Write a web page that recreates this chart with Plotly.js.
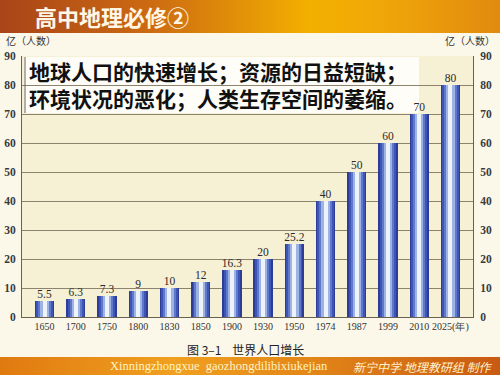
<!DOCTYPE html>
<html><head><meta charset="utf-8">
<script src="https://cdn.plot.ly/plotly-3.0.1.min.js"></script>
<style>html,body{margin:0;padding:0;background:#fbf8ea;}#chart{width:500px;height:375px;}</style>
</head><body><div id="chart"></div>
<script>
// ---- data ----
const years = ["1650","1700","1750","1800","1830","1850","1900","1930","1950","1974","1987","1999","2010","2025"];
const population = [5.5, 6.3, 7.3, 9, 10, 12, 16.3, 20, 25.2, 40, 50, 60, 70, 80];
const valueLabels = ["5.5","6.3","7.3","9","10","12","16.3","20","25.2","40","50","60","70","80"];
const yearLabels = ["1650","1700","1750","1800","1830","1850","1900","1930","1950","1974","1987","1999","2010","2025(年)"];
const yTicks = [0,10,20,30,40,50,60,70,80,90];

const W = 500, H = 375, mL = 22, mR = 27, mT = 56, mB = 58;
const pw = W - mL - mR, ph = H - mT - mB;
const px = X => (X - mL) / pw;
const py = Y => (H - mB - Y) / ph;

// bar layers (gradient imitation)
const layers = [
  {w: 0.62, c: '#2d3d96'},
  {w: 0.52, c: '#3d55b4'},
  {w: 0.40, c: '#5f78cc'},
  {w: 0.27, c: '#9fb2e4'},
  {w: 0.13, c: '#eef2fb'}
];
const traces = layers.map(L => ({
  type: 'bar', x: years, y: population, width: L.w,
  marker: {color: L.c, line: {width: 0}}, hoverinfo: 'skip', showlegend: false,
  xaxis: 'x', yaxis: 'y'
}));
traces.push({
  type: 'scatter', mode: 'text', x: years, y: population, text: valueLabels,
  textposition: 'top center', cliponaxis: false,
  textfont: {family: 'Liberation Serif', size: 11.5, color: '#2a2a2a'},
  xaxis: 'x', yaxis: 'y2', showlegend: false, hoverinfo: 'skip'
});

function grad(stops, w, h) {
  const s = stops.map(([o, c]) => `<stop offset='${o}' stop-color='${c}'/>`).join('');
  const svg = `<svg xmlns='http://www.w3.org/2000/svg' width='${w}' height='${h}' preserveAspectRatio='none'><defs><linearGradient id='g' x1='0' y1='0' x2='1' y2='0'>${s}</linearGradient></defs><rect width='${w}' height='${h}' fill='url(#g)'/></svg>`;
  return 'data:image/svg+xml;base64,' + btoa(svg);
}
const headerImg = grad([[0,'#a84418'],[0.3,'#cc6a12'],[0.62,'#f3b000'],[0.75,'#f0a808'],[1,'#e28a10']], 500, 33);
const footerImg = grad([[0,'#e07a10'],[0.35,'#f0a020'],[0.6,'#e48818'],[1,'#c85a12']], 500, 18);

const axFont = {family: 'Liberation Serif', size: 11.5, color: '#3a3a3a', weight: 'bold'};
const layout = {
  width: W, height: H,
  margin: {l: mL, r: mR, t: mT, b: mB, pad: 0},
  paper_bgcolor: '#fbf8ea', plot_bgcolor: '#f6f0d4',
  barmode: 'overlay', bargap: 0, showlegend: false,
  xaxis: {type: 'category', tickvals: years, ticktext: yearLabels, showgrid: false, tickangle: 0,
    showline: true, linecolor: '#6a6050', linewidth: 1, ticks: '', fixedrange: true,
    tickfont: {family: 'Liberation Serif', size: 10, color: '#333'}},
  yaxis: {range: [0, 90], tickvals: yTicks, showgrid: true, gridcolor: '#8c826e', gridwidth: 1,
    zeroline: false, showline: true, linecolor: '#6a6050', linewidth: 1, ticks: '', mirror: false,
    tickfont: axFont, ticklabelstandoff: 3},
  yaxis2: {range: [0, 90], tickvals: yTicks, overlaying: 'y', side: 'right', showgrid: false,
    zeroline: false, showline: true, linecolor: '#6a6050', linewidth: 1, ticks: '',
    tickfont: axFont, ticklabelstandoff: 4},
  images: [
    {source: headerImg, xref: 'paper', yref: 'paper', x: px(0), y: py(0), sizex: 500/pw, sizey: 33/ph,
      xanchor: 'left', yanchor: 'top', sizing: 'stretch', layer: 'below'},
    {source: footerImg, xref: 'paper', yref: 'paper', x: px(0), y: py(357), sizex: 500/pw, sizey: 18/ph,
      xanchor: 'left', yanchor: 'top', sizing: 'stretch', layer: 'below'}
  ],
  shapes: [
    {type: 'rect', xref: 'paper', yref: 'paper', x0: px(24), x1: px(419), y0: py(113), y1: py(57),
      fillcolor: 'rgba(255,255,255,0.82)', line: {width: 0}, layer: 'between'},
    {type: 'line', xref: 'paper', yref: 'paper', x0: px(25), x1: px(25), y0: py(113), y1: py(57),
      line: {width: 1, color: '#6a6050'}, layer: 'above'}
  ],
  annotations: [
    {text: '高中地理必修②', xref: 'paper', yref: 'paper', x: px(33), y: py(16), xanchor: 'left', yanchor: 'middle',
      showarrow: false, font: {family: 'Noto Sans CJK SC', size: 22, color: '#fff6e6', weight: 'bold'}},
    {text: '亿（人数）', xref: 'paper', yref: 'paper', x: px(4), y: py(41), xanchor: 'left', yanchor: 'middle',
      showarrow: false, font: {family: 'Noto Sans CJK SC', size: 10, color: '#333'}},
    {text: '亿（人数）', xref: 'paper', yref: 'paper', x: px(497), y: py(41), xanchor: 'right', yanchor: 'middle',
      showarrow: false, font: {family: 'Noto Sans CJK SC', size: 10, color: '#333'}},
    {text: '地球人口的快速增长；资源的日益短缺；<br>环境状况的恶化；人类生存空间的萎缩。', xref: 'paper', yref: 'paper',
      x: px(27), y: py(84), xanchor: 'left', yanchor: 'middle', align: 'left',
      showarrow: false, font: {family: 'Noto Sans CJK SC', size: 21, color: '#111', weight: 'bold'}},
    {text: '图 3–1    世界人口增长', xref: 'paper', yref: 'paper', x: px(185), y: py(349), xanchor: 'left', yanchor: 'middle',
      showarrow: false, font: {family: 'Noto Sans CJK SC', size: 12, color: '#222'}},
    {text: 'Xinningzhongxue  gaozhongdilibixiukejian', xref: 'paper', yref: 'paper', x: px(108), y: py(366), xanchor: 'left', yanchor: 'middle',
      showarrow: false, font: {family: 'Liberation Serif', size: 12.5, color: '#fff3c4'}},
    {text: '新宁中学 地理教研组 制作', xref: 'paper', yref: 'paper', x: px(494), y: py(366), xanchor: 'right', yanchor: 'middle',
      showarrow: false, font: {family: 'Noto Sans CJK SC', size: 12, color: '#fff0c8', style: 'italic'}}
  ]
};
Plotly.newPlot('chart', traces, layout, {displayModeBar: false, staticPlot: true});
</script></body></html>
